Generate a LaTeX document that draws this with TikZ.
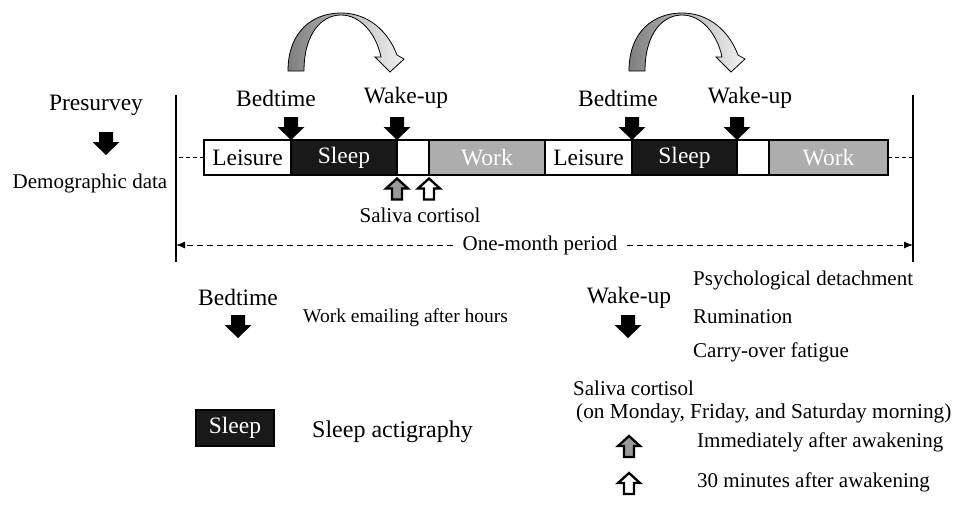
\documentclass[tikz,border=0pt]{standalone}
\usepackage{fontspec}
\setmainfont{Liberation Serif}
\usetikzlibrary{positioning,arrows.meta}

\tikzset{
  big/.style={font=\fontsize{23.5}{26}\selectfont, inner sep=0pt},
  mid/.style={font=\fontsize{21}{24}\selectfont, inner sep=0pt},
  small/.style={font=\fontsize{19.5}{22}\selectfont, inner sep=0pt},
  seg/.style={draw, line width=1.2pt, minimum height=35pt, inner sep=0pt, outer sep=0pt,
    font=\fontsize{23.5}{26}\selectfont},
  stub/.style={dash pattern=on 4pt off 3pt, line width=0.7pt},
  spanarr/.style={dash pattern=on 6pt off 4pt, line width=1pt, -{Latex[length=9pt,width=7pt]}},
  darr/.pic={\fill (0,0) -- (-13.5,-13) -- (-7,-13) -- (-7,-23) -- (7,-23) -- (7,-13) -- (13.5,-13) -- cycle;},
  uarr/.pic={\draw[line width=2.3pt, pic actions] (0,0) -- (11,10) -- (5,10) -- (5,21) -- (-5,21) -- (-5,10) -- (-11,10) -- cycle;},
  curvarr/.pic={\draw[line width=0.8pt, left color=black!50, right color=black!5]
    (0,0) .. controls (0,-40) and (25,-58) .. (53,-58)
    .. controls (80,-58) and (100,-40) .. (109,-16)
    -- (116,-12) -- (102,1) -- (87,-14) -- (93,-14)
    .. controls (88,-38) and (72,-56) .. (53,-56)
    .. controls (34,-56) and (16,-38) .. (16,0) -- cycle;}
}

\begin{document}
\begin{tikzpicture}[x=1pt,y=-1pt]
\useasboundingbox (0,0) rectangle (956,504);

% period limits
\coordinate (lt) at (176,95);
\coordinate (lb) at (176,262);
\coordinate (rt) at (913,95);
\coordinate (rb) at (913,262);
\draw[line width=1.1pt] (lt) -- (lb);
\draw[line width=1.1pt] (rt) -- (rb);

% presurvey
\node[big] (presurv) at (96,105) {Presurvey};
\pic at (106,155) {darr};
\node[mid] (demo) at (90,183) {Demographic data};

% the daily bar
\node[seg, fill=white, minimum width=87pt] (leis1) at (247.5,157.5) {Leisure};
\node[seg, fill=black!90, text=white, minimum width=106pt, right=0pt of leis1] (sleep1) {Sleep};
\node[seg, fill=white, minimum width=32pt, right=0pt of sleep1] (gap1) {};
\node[seg, fill=black!32, text=white, minimum width=116pt, right=0pt of gap1] (work1) {Work};
\node[seg, fill=white, minimum width=87pt, right=0pt of work1] (leis2) {Leisure};
\node[seg, fill=black!90, text=white, minimum width=105pt, right=0pt of leis2] (sleep2) {Sleep};
\node[seg, fill=white, minimum width=32pt, right=0pt of sleep2] (gap2) {};
\node[seg, fill=black!32, text=white, minimum width=119pt, right=0pt of gap2] (work2) {Work};
\draw[stub] (leis1.west) -- (leis1.west -| lt);
\draw[stub] (work2.east) -- (work2.east -| rt);

% bedtime and wake-up
\node[big] (bed1) at (276,98) {Bedtime};
\node[big] (wake1) at (406,98) {Wake-up};
\node[big] (bed2) at (618,98) {Bedtime};
\node[big] (wake2) at (750,98) {Wake-up};
\pic at (sleep1.north west) {darr};
\pic at (sleep1.north east) {darr};
\pic at (sleep2.north west) {darr};
\pic at (sleep2.north east) {darr};
\pic at (288,71) {curvarr};
\pic at (629,71) {curvarr};

% saliva
\pic[fill=black!40] at ([yshift=-3.5pt]gap1.south west) {uarr};
\pic[fill=white] at ([yshift=-3.5pt]gap1.south east) {uarr};
\node[mid] (saliva) at (420,215) {Saliva cortisol};

% one-month period
\node[mid, inner sep=10pt] (period) at (540,245) {One-month period};
\draw[spanarr] (period.west) -- (period.west -| lt);
\draw[spanarr] (period.east) -- (period.east -| rt);

% legend
\node[big] (bedlg) at (238,297) {Bedtime};
\pic at (238,338) {darr};
\node[small, anchor=west] (email) at (303,318) {Work emailing after hours};
\node[big] (wakelg) at (629,298) {Wake-up};
\pic at (628,338) {darr};
\node[mid, anchor=west] (detach) at (693,280) {Psychological detachment};
\node[mid, anchor=west] (rumin) at (693,317) {Rumination};
\node[mid, anchor=west] (fatig) at (693,352) {Carry-over fatigue};
\node[seg, fill=black!90, text=white, minimum width=78pt, minimum height=36pt] (sleeplg) at (235,428) {Sleep};
\node[big, font=\fontsize{24}{26}\selectfont, anchor=west] (actig) at (312,432) {Sleep actigraphy};
\node[mid, anchor=west] (salivalg) at (573,388) {Saliva cortisol};
\node[mid, font=\fontsize{21.3}{24}\selectfont, anchor=west] (days) at (576,413) {(on Monday, Friday, and Saturday morning)};
\pic[fill=black!40] at (629,436) {uarr};
\node[mid, anchor=west] (immed) at (697,442) {Immediately after awakening};
\pic[fill=white] at (629,473) {uarr};
\node[mid, anchor=west] (thirty) at (697,482) {30 minutes after awakening};
\end{tikzpicture}
\end{document}
